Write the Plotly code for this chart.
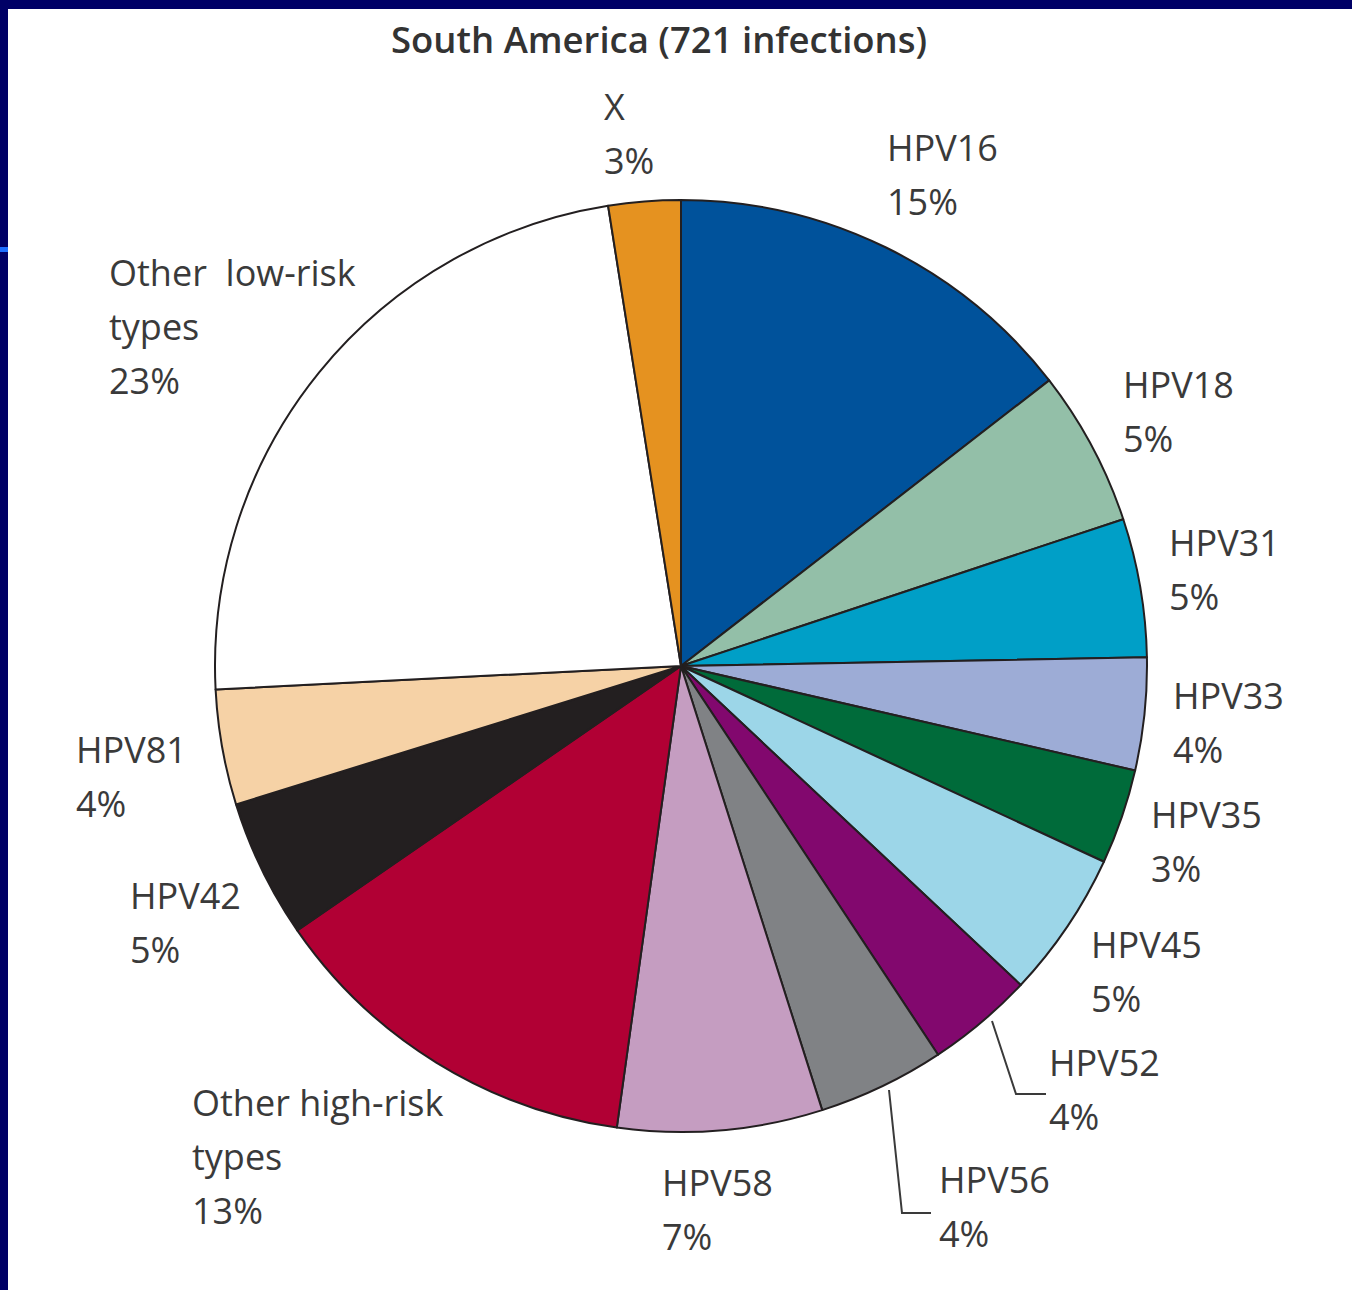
import plotly.graph_objects as go

# data (percent of 721 infections, clockwise from 12 o'clock)
types = ["HPV16", "HPV18", "HPV31", "HPV33", "HPV35", "HPV45", "HPV52", "HPV56",
         "HPV58", "Other high-risk types", "HPV42", "HPV81", "Other low-risk types", "X"]
shares = [14.5, 5.4, 4.8, 3.9, 3.3, 5.1, 3.7, 4.4, 7.1, 13.2, 4.8, 4.0, 23.3, 2.5]
shown_pct = ["15%", "5%", "5%", "4%", "3%", "5%", "4%", "4%", "7%", "13%", "5%", "4%", "23%", "3%"]
label_lines = [["HPV16"], ["HPV18"], ["HPV31"], ["HPV33"], ["HPV35"], ["HPV45"], ["HPV52"],
               ["HPV56"], ["HPV58"], ["Other high-risk", "types"], ["HPV42"], ["HPV81"],
               ["Other  low-risk", "types"], ["X"]]

colors = ["#00529b", "#93bfa8", "#009fc7", "#9dacd6", "#006b3a", "#9cd6e8", "#82086e",
          "#808285", "#c59dc1", "#b10034", "#231f20", "#f6d2a6", "#ffffff", "#e59220"]

W, H = 1352, 1290
# label top-left positions in pixels (hand placed like the original)
label_pos = [(888, 135), (1124, 372), (1170, 530), (1174, 683), (1152, 802), (1092, 932),
             (1050, 1050), (940, 1167), (663, 1170), (193, 1090), (131, 883), (77, 737),
             (110, 260), (605, 95)]
LINE_H = 54


def px(x):
    return x / W


def py(y):
    return 1 - y / H


cx, cy, r = 681, 666, 466

fig = go.Figure(go.Pie(
    values=shares, labels=types, sort=False, direction="clockwise", rotation=0,
    marker=dict(colors=colors, line=dict(color="#231f20", width=2)),
    textinfo="none", hoverinfo="label+value", showlegend=False,
    domain=dict(x=[px(cx - r), px(cx + r)], y=[py(cy + r), py(cy - r)]),
))

txt = dict(family="Open Sans, sans-serif", size=36, color="#3a3a3a")
for lines, pct, (lx, ly) in zip(label_lines, shown_pct, label_pos):
    for i, t in enumerate(lines + [pct]):
        fig.add_annotation(x=px(lx - 3), y=py(ly + 12 + i * LINE_H), xref="paper", yref="paper",
                           text=t, showarrow=False, xanchor="left", yanchor="middle", font=txt)

fig.add_annotation(x=px(659), y=py(39), xref="paper", yref="paper",
                   text="South America (721 infections)", showarrow=False,
                   xanchor="center", yanchor="middle",
                   font=dict(family="Open Sans, sans-serif", size=36.5, color="#333333", weight=600))

# leader lines for the two small slices
for pts in [[(992, 1021), (1016, 1094), (1046, 1094)], [(889, 1090), (902, 1213), (931, 1213)]]:
    path = "M " + " L ".join(f"{px(a)},{py(b)}" for a, b in pts)
    fig.add_shape(type="path", path=path, xref="paper", yref="paper",
                  line=dict(color="#3a3a3a", width=2))

# navy slide frame
fig.add_shape(type="rect", xref="paper", yref="paper", x0=0, x1=1, y0=py(9), y1=1,
              fillcolor="#000066", line_width=0)
fig.add_shape(type="rect", xref="paper", yref="paper", x0=0, x1=px(8), y0=0, y1=1,
              fillcolor="#000066", line_width=0)
fig.add_shape(type="rect", xref="paper", yref="paper", x0=0, x1=px(8), y0=py(252), y1=py(247),
              fillcolor="#1f6fff", line_width=0)

fig.update_layout(width=W, height=H, margin=dict(l=0, r=0, t=0, b=0),
                  paper_bgcolor="white", plot_bgcolor="white")

fig.write_html("out.html", config={"displayModeBar": False},
               post_script="document.body.style.margin='0';document.body.style.overflow='hidden';")
